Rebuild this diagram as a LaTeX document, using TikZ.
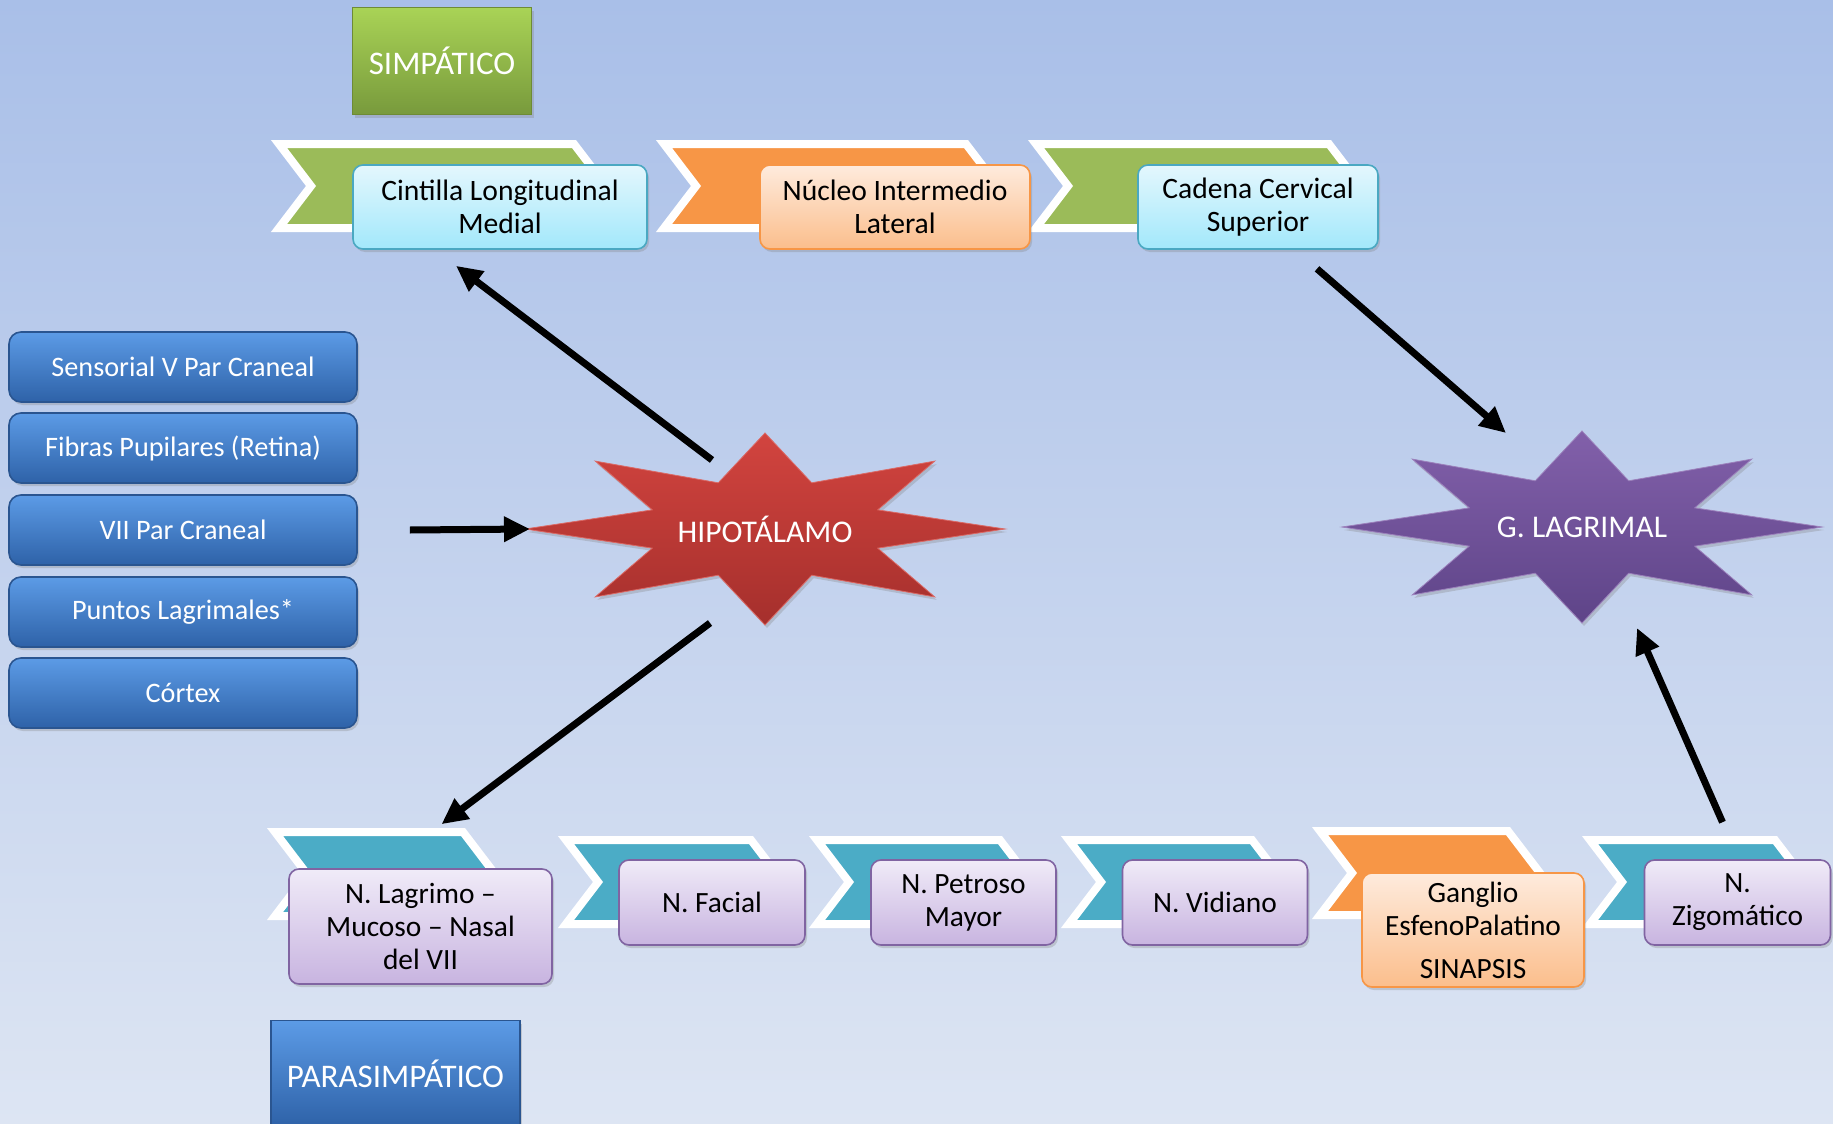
\documentclass[tikz,border=0pt]{standalone}
\usepackage{fontspec}
\setmainfont{Carlito}
\usetikzlibrary{arrows.meta,calc,shadows}

\definecolor{bgtop}{HTML}{A9BFE8}
\definecolor{bgbot}{HTML}{DDE5F3}
\definecolor{cyantop}{HTML}{E4F7FD}
\definecolor{cyanbot}{HTML}{A2E8FB}
\definecolor{cyanline}{HTML}{4AA8C2}
\definecolor{orgtop}{HTML}{FEEBDD}
\definecolor{orgbot}{HTML}{FBBE8C}
\definecolor{orgline}{HTML}{F79646}
\definecolor{lavtop}{HTML}{F0EBF8}
\definecolor{lavbot}{HTML}{C8B4E0}
\definecolor{lavline}{HTML}{8064A2}
\definecolor{chgreen}{HTML}{9BBB59}
\definecolor{chorange}{HTML}{F79646}
\definecolor{chteal}{HTML}{4BACC6}
\definecolor{simptop}{HTML}{A9D356}
\definecolor{simpbot}{HTML}{789A3C}
\definecolor{simpline}{HTML}{6E8B35}
\definecolor{bluetop}{HTML}{5C9BE6}
\definecolor{bluemid}{HTML}{3F7FCE}
\definecolor{bluebot}{HTML}{2E62A8}
\definecolor{blueline}{HTML}{2A5590}
\definecolor{redtop}{HTML}{D2443F}
\definecolor{redbot}{HTML}{A52F2C}
\definecolor{purtop}{HTML}{8260AA}
\definecolor{purbot}{HTML}{5E4488}

\newcommand{\ftop}{\fontsize{14.8pt}{16.5pt}\selectfont}
\newcommand{\fbot}{\fontsize{14.7pt}{16.5pt}\selectfont}
\newcommand{\fbtn}{\fontsize{14.1pt}{16pt}\selectfont}
\newcommand{\fstar}{\fontsize{15.8pt}{18pt}\selectfont}
\newcommand{\ftitle}{\fontsize{16.5pt}{19pt}\selectfont}

% #1 left, #2 right, #3 centre y, #4 colour
\newcommand{\mychev}[4]{%
  \draw[chev, fill=#4] (#1,#3-42) -- (#2,#3-42) -- (#2+32,#3) -- (#2,#3+42)
    -- (#1,#3+42) -- (#1+32,#3) -- cycle;}

\begin{document}
\begin{tikzpicture}[x=0.5pt,y=-0.5pt,
  shad/.style={drop shadow={opacity=0.3,shadow xshift=1pt,shadow yshift=-1.5pt}},
  chev/.style={draw=white,line width=4pt,line join=miter,shad},
  box/.style={draw,rounded corners=5pt,align=center,inner sep=2pt,line width=0.8pt,shad},
  cyanbox/.style={box,draw=cyanline,top color=cyantop,bottom color=cyanbot,font=\ftop},
  orgtopbox/.style={box,draw=orgline,top color=orgtop,bottom color=orgbot,font=\ftop},
  orgbotbox/.style={box,draw=orgline,top color=orgtop,bottom color=orgbot,font=\fbot},
  lavbox/.style={box,draw=lavline,top color=lavtop,bottom color=lavbot,font=\fbot},
  btn/.style={draw=blueline,rounded corners=6pt,line width=0.8pt,top color=bluetop,middle color=bluemid,bottom color=bluebot,
    text=white,font=\fbtn,minimum width=174pt,minimum height=35pt,shad},
  title/.style={line width=0.8pt,text=white,font=\ftitle,shad},
  startext/.style={text=white,font=\fstar},
  arr/.style={line width=3.5pt,-{Triangle[length=13pt,width=12pt]}}
]
\shade[top color=bgtop,bottom color=bgbot] (0,0) rectangle (1833,1124);
\useasboundingbox (0,0) rectangle (1833,1124);

% titles
\node[title,draw=simpline,top color=simptop,bottom color=simpbot,minimum width=89.5pt,minimum height=53.5pt] (simp) at (442,61) {SIMPÁTICO};
\node[title,draw=blueline,top color=bluetop,middle color=bluemid,bottom color=bluebot,minimum width=124.5pt,minimum height=53pt] (parasimp) at (395.5,1073.5) {PARASIMPÁTICO};

% top chevrons
\mychev{279}{574}{186}{chgreen}
\mychev{664}{966}{186}{chorange}
\mychev{1036}{1329}{186}{chgreen}

% bottom chevrons
\mychev{275}{463}{874}{chteal}
\mychev{566}{751}{882}{chteal}
\mychev{817}{1000}{882}{chteal}
\mychev{1069}{1252}{882}{chteal}
\mychev{1320}{1508}{873}{chorange}
\mychev{1590}{1775}{882}{chteal}

% top boxes
\node[cyanbox,minimum width=147pt,minimum height=42pt] (b1) at (500,207) {Cintilla Longitudinal\\Medial};
\node[orgtopbox,minimum width=135pt,minimum height=42pt] (b2) at (895,207) {Núcleo Intermedio\\Lateral};
\node[cyanbox,minimum width=120pt,minimum height=42pt] (b3) at (1258,207) {Cadena Cervical\\Superior};

% bottom boxes
\node[lavbox,minimum width=131.5pt,minimum height=57.5pt] (lag) at (420.5,926.5) {N. Lagrimo –\\Mucoso – Nasal\\del VII};
\node[lavbox,minimum width=93pt,minimum height=42.5pt] (fac) at (712,902.5) {N. Facial};
\node[lavbox,minimum width=92.5pt,minimum height=42.5pt] (pet) at (963.5,902.5) {N. Petroso\\Mayor};
\node[lavbox,minimum width=92.5pt,minimum height=42.5pt] (vid) at (1215,902.5) {N. Vidiano};
\node[orgbotbox,minimum width=111pt,minimum height=57pt] (gan) at (1473,930) {Ganglio\\EsfenoPalatino\\[5pt]SINAPSIS};
\node[lavbox,minimum width=93pt,minimum height=42.5pt] (zig) at (1737.5,902.5) {N.\\Zigomático};

% left buttons
\node[btn] (s1) at (183,367) {Sensorial V Par Craneal};
\node[btn] (s2) at (183,448) {Fibras Pupilares (Retina)};
\node[btn] (s3) at (183,530) {VII Par Craneal};
\node[btn] (s4) at (183,612) {Puntos Lagrimales*};
\node[btn] (s5) at (183,693) {Córtex};

% stars
\coordinate (hc) at (765,529);
\coordinate (gc) at (1582,527);
\shade[top color=redtop,bottom color=redbot,draw=redtop!80!white,line width=0.4pt,shad]
  ($(hc)+(0:240 and 96)$) foreach \a in {0,45,...,315}{
    -- ($(hc)+(\a+22.5:122 and 50)$) -- ($(hc)+(\a+45:240 and 96)$)} -- cycle;
\shade[top color=purtop,bottom color=purbot,draw=purtop!80!white,line width=0.4pt,shad]
  ($(gc)+(0:240 and 96)$) foreach \a in {0,45,...,315}{
    -- ($(gc)+(\a+22.5:122 and 50)$) -- ($(gc)+(\a+45:240 and 96)$)} -- cycle;
\node[startext] (hipo) at (hc) {HIPOTÁLAMO};
\node[startext] (glag) at (gc) {G. LAGRIMAL};

% arrows
\draw[arr] ($(hipo)+(-53,-69)$) -- ($(b1.south)+(-44,16)$);
\draw[arr] ($(b3.south)+(59,19)$) -- ($(glag)+(-76,-94)$);
\draw[arr] ($(s3.east)+(52,0)$) -- ($(hipo)+(-235,0)$);
\draw[arr] ($(hipo)+(-55,94)$) -- ($(lag.north)+(21,-44)$);
\draw[arr] ($(zig.north)+(-15,-37)$) -- ($(glag)+(55,101)$);
\end{tikzpicture}
\end{document}
